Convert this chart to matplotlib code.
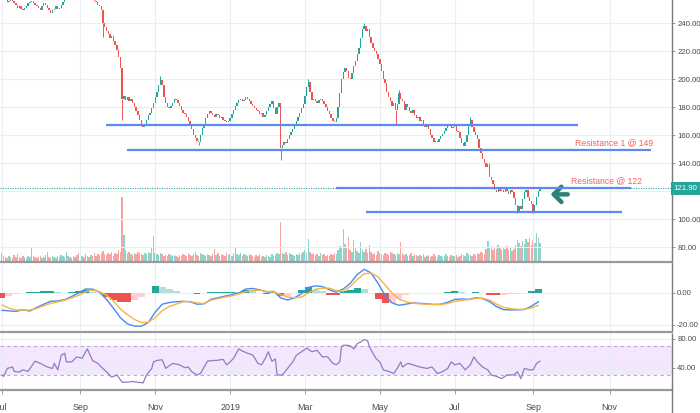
import matplotlib.pyplot as plt
import matplotlib.transforms as mtransforms
import numpy as np
import pandas as pd
from matplotlib.lines import Line2D

plt.rcParams['font.family'] = ['Liberation Sans', 'DejaVu Sans']

# daily closes, one per trading day from 2 Jul 2018 to 6 Sep 2019
closes = [
    258, 259, 257, 255, 256, 258, 256, 254, 253, 251,
    252, 250, 249, 251, 252, 254, 255, 256, 254, 253,
    252, 251, 249, 252, 254, 253, 251, 249, 247, 249,
    250, 252, 250, 251, 253, 255, 257, 258, 260, 259,
    261, 260, 262, 261, 259, 260, 262, 261, 259, 260,
    258, 259, 257, 256, 255, 253, 252, 249, 240, 237,
    234, 232, 229, 231, 227, 224, 221, 216, 208, 186,
    188, 185, 187, 184, 186, 183, 180, 177, 174, 171,
    168, 166, 168, 171, 174, 176, 179, 183, 187, 191,
    196, 199, 196, 187, 183, 180, 179, 181, 183, 186,
    185, 183, 181, 178, 176, 175, 173, 170, 168, 164,
    160, 158, 156, 155, 160, 165, 168, 172, 175, 177,
    176, 174, 173, 175, 174, 172, 173, 171, 170, 169,
    170, 172, 175, 178, 181, 183, 185, 186, 184, 185,
    187, 186, 184, 182, 181, 179, 178, 177, 175, 176,
    173, 174, 177, 180, 182, 184, 179, 175, 180, 183,
    151, 153, 155, 154, 157, 160, 162, 164, 167, 170,
    173, 176, 179, 182, 188, 194, 198, 191, 185, 186,
    184, 183, 185, 186, 184, 182, 180, 177, 175, 172,
    170, 169, 172, 180, 190, 200, 205, 208, 206, 201,
    200, 204, 209, 213, 218, 222, 229, 236, 238, 234,
    236, 230, 226, 222, 220, 218, 214, 211, 206, 200,
    197, 191, 187, 184, 181, 183, 178, 182, 190, 186,
    184, 178, 182, 180, 177, 176, 178, 174, 172, 173,
    170, 171, 168, 166, 167, 164, 160, 158, 155, 156,
    155, 157, 159, 161, 163, 165, 167, 168, 165, 166,
    167, 163, 162, 158, 154, 152, 155, 160, 167, 171,
    166, 162, 160, 157, 151, 147, 143, 140, 137, 139,
    130, 128, 125, 121, 119, 122, 120, 121, 119, 122,
    120, 118, 121, 119, 115, 110, 106, 109, 107, 114,
    119, 121, 116, 113, 111, 106, 110, 116, 120, 121.9,
]

volumes = [
    9, 6, 5, 4, 6, 5, 4, 7, 5, 8,
    5, 4, 6, 5, 4, 6, 5, 15, 6, 5,
    4, 5, 6, 4, 5, 7, 10, 5, 4, 6,
    5, 4, 6, 5, 7, 6, 5, 10, 6, 5,
    4, 6, 5, 7, 9, 16, 6, 5, 8, 6,
    5, 7, 6, 9, 6, 8, 7, 9, 11, 8,
    7, 9, 8, 10, 6, 9, 8, 12, 10, 65,
    27, 12, 9, 10, 8, 7, 9, 8, 10, 9,
    8, 7, 9, 8, 10, 9, 15, 26, 9, 8,
    7, 9, 8, 6, 7, 6, 8, 7, 6, 7,
    6, 5, 7, 6, 8, 7, 6, 9, 7, 6,
    8, 10, 7, 6, 9, 8, 7, 6, 8, 7,
    6, 8, 13, 7, 9, 6, 8, 7, 6, 9,
    7, 8, 6, 9, 14, 8, 7, 9, 6, 8,
    7, 6, 8, 7, 6, 5, 7, 6, 8, 5,
    6, 5, 7, 6, 5, 8, 6, 7, 9, 8,
    40, 9, 8, 10, 7, 9, 8, 7, 6, 8,
    7, 9, 8, 10, 12, 9, 23, 10, 8, 9,
    7, 8, 6, 9, 7, 8, 6, 7, 6, 8,
    7, 9, 8, 12, 16, 14, 33, 18, 15, 25,
    12, 10, 22, 14, 11, 9, 20, 12, 10, 13,
    9, 17, 10, 8, 9, 7, 11, 9, 8, 7,
    9, 8, 7, 10, 9, 8, 7, 9, 8, 20,
    9, 7, 8, 6, 7, 9, 6, 8, 7, 6,
    7, 6, 8, 5, 6, 7, 5, 6, 8, 6,
    5, 7, 6, 5, 6, 8, 6, 5, 7, 6,
    6, 7, 5, 6, 8, 7, 6, 9, 8, 7,
    6, 8, 7, 9, 8, 10, 9, 8, 13, 21,
    14, 16, 12, 15, 13, 17, 14, 12, 15, 13,
    16, 12, 14, 11, 13, 17, 22, 19, 16, 21,
    18, 23, 20, 24, 17, 22, 19, 29, 24, 19,
]

# long wicks that stick out of the bodies
low_wick_idx = [58, 69, 113, 160, 226, 296, 305]
low_wick_val = [230, 171, 153, 142, 168, 104, 104]
high_wick_idx = [91, 176, 208, 228, 269]
high_wick_val = [202, 200, 240, 192, 173]

# MACD(12,26,9) read every 4 trading days
ind_step = 4
macd = [-10.8, -11.2, -11.5, -10.5, -11.3, -9.0, -7.0, -5.2, -5.0, -4.2,
        -2.2, 0.0, 2.5, 2.4, 0.5, -4.0, -9.5, -15.5, -19.3, -20.7,
        -20.8, -18.5, -12.0, -7.0, -6.0, -5.5, -5.2, -5.5, -7.0, -6.8,
        -4.0, -3.0, -2.0, -1.0, 0.0, 2.5, 2.8, 2.0, 0.6, 1.0,
        -3.0, -4.4, -3.0, -0.5, 3.5, 4.4, 4.0, 2.0, 0.5, 2.5,
        6.0, 11.5, 14.8, 12.5, 6.0, -1.5, -6.2, -7.7, -7.0, -6.2,
        -6.5, -6.7, -7.2, -7.0, -5.8, -4.0, -3.7, -4.0, -3.0, -3.5,
        -5.4, -8.5, -10.4, -10.6, -10.6, -10.3, -8.3, -5.5]
signal = [-7.5, -9.5, -10.6, -10.7, -10.7, -9.6, -8.0, -6.5, -5.6, -4.5,
          -3.0, -1.5, 0.8, 1.7, 0.8, -1.3, -5.0, -10.0, -13.5, -16.5,
          -18.5, -18.3, -15.5, -11.0, -8.5, -7.0, -5.5, -5.3, -6.2, -6.7,
          -4.5, -3.5, -2.6, -1.8, -0.6, 0.8, 1.6, 1.7, 1.0, 0.5,
          -1.0, -2.5, -3.0, -2.5, 0.0, 2.3, 3.0, 3.0, 1.5, 1.0,
          4.0, 8.5, 12.0, 12.5, 10.0, 5.0, 0.0, -3.8, -5.5, -6.4,
          -6.8, -7.0, -7.2, -7.3, -6.5, -5.3, -4.6, -4.2, -3.4, -3.3,
          -4.4, -7.0, -9.0, -9.8, -10.2, -10.2, -9.3, -7.8]
hist = [-3.3, -1.7, -0.9, 0.2, 0.5, 0.6, 1.0, 1.3, 0.6, 0.3,
        0.8, 1.5, 1.7, 0.7, -0.3, -2.7, -4.5, -5.5, -5.8, -4.2,
        -2.3, -0.2, 4.5, 4.0, 2.5, 1.5, 0.3, -0.2, -0.8, -0.1,
        0.5, 0.5, 0.6, 0.8, 0.6, 1.7, 1.2, 0.3, -0.4, 0.5,
        -2.0, -1.9, 0.0, 2.0, 3.5, 2.1, 1.0, -1.0, -1.0, 1.5,
        2.0, 3.0, 2.8, 0.0, -4.0, -6.5, -6.2, -3.9, -1.5, 0.2,
        0.3, 0.3, 0.0, 0.3, 0.7, 1.3, 0.9, 0.2, 0.4, -0.2,
        -1.0, -1.5, -1.4, -0.8, -0.4, -0.1, 1.0, 2.3]

# RSI(14) readings (trading day index, value)
rsi_idx = [0, 1, 3, 6, 7, 10, 12, 15, 19, 22,
           26, 29, 30, 32, 34, 36, 37, 40, 43, 46,
           49, 52, 55, 57, 60, 63, 66, 69, 72, 75,
           78, 81, 83, 86, 87, 89, 92, 94, 95, 98,
           102, 105, 107, 109, 112, 114, 118, 121, 123, 127,
           129, 131, 133, 136, 138, 141, 144, 147, 149, 151,
           153, 155, 157, 158, 161, 164, 167, 169, 172, 175,
           178, 181, 184, 187, 190, 192, 194, 195, 196, 198,
           200, 202, 204, 206, 208, 210, 211, 213, 215, 217,
           219, 222, 225, 227, 229, 230, 233, 236, 240, 244,
           247, 250, 253, 256, 258, 260, 263, 266, 269, 271,
           273, 276, 279, 281, 284, 287, 290, 294, 296, 298,
           300, 303, 305, 307, 309]
rsi_val = [30, 28, 39, 41, 35, 34, 37, 35, 49, 46,
           41, 39, 46, 37, 57, 60, 48, 48, 55, 53,
           66, 50, 46, 41, 34.5, 27, 30, 20, 20, 21,
           20, 19, 30, 39, 48, 50, 51, 39, 41, 46,
           44, 40, 41, 34.5, 30, 32, 49, 50, 50, 51.5,
           44, 48, 53, 66, 63, 60, 57.5, 46, 44, 52,
           62, 49, 52, 30, 30, 39, 48, 57, 62, 67,
           62, 64, 55, 55, 46, 44, 48, 69, 71, 71,
           70, 66, 73, 75.5, 79, 77, 69, 60, 52, 48,
           37, 35, 32, 39, 48, 41, 46, 44, 41, 39,
           41, 32, 34.5, 39, 48, 44, 46, 37, 44, 55,
           48, 41, 37, 30, 28, 25, 30, 30, 34.5, 25,
           39, 37, 37, 46, 49]

# drawn support / resistance lines
levels = [167, 149, 122, 105]
level_from = [60, 72, 192, 209]
level_to = [331, 373, 361, 356]
last_price = 121.9

price_ticks = [80, 100, 120, 140, 160, 180, 200, 220, 240]

UP, DOWN = '#26a69a', '#ef5350'
GRID = '#e9eef4'
SEP = '#9a9a9a'
TXT = '#4a4a4a'

dates = pd.bdate_range('2018-07-02', periods=390)
x_max = 384.8
tick_pos, tick_lab = [], []
for i, d in enumerate(dates):
    if i > x_max:
        break
    if (i == 0 or d.month != dates[i - 1].month) and d.month % 2 == 1:
        tick_pos.append(i)
        tick_lab.append('2019' if d.month == 1 else d.strftime('%b'))

c = np.array(closes, dtype=float)
o = np.concatenate([[c[0] + 1], c[:-1]])
x = np.arange(len(c))
up = c >= o

fig = plt.figure(figsize=(7, 4.13), dpi=100)
W = 672 / 700
vol_ax = fig.add_axes([0, 151 / 413, W, 262 / 413])
ax = fig.add_axes([0, 151 / 413, W, 262 / 413], sharex=vol_ax)
mx = fig.add_axes([0, 81 / 413, W, 69 / 413], sharex=vol_ax)
rx = fig.add_axes([0, 23 / 413, W, 56 / 413], sharex=vol_ax)
vol_ax.set_zorder(0)
ax.set_zorder(1)
ax.patch.set_visible(False)

# volume
vol_ax.bar(x, volumes, width=0.85, color=np.where(up, '#8fd2c7', '#f6a6a2'), linewidth=0)
vol_ax.set_ylim(0, max(volumes) * 4.03)
vol_ax.axis('off')

# candles
lo = np.minimum(o, c)
body = np.maximum(np.abs(c - o), 0.6)
ax.bar(x, body, bottom=lo, width=0.8, color=np.where(up, UP, DOWN), linewidth=0, zorder=3)
ax.vlines(low_wick_idx, low_wick_val, [min(o[i], c[i]) for i in low_wick_idx],
          color=[UP if up[i] else DOWN for i in low_wick_idx], lw=0.7, zorder=3)
ax.vlines(high_wick_idx, [max(o[i], c[i]) for i in high_wick_idx], high_wick_val,
          color=[UP if up[i] else DOWN for i in high_wick_idx], lw=0.7, zorder=3)

ax.axhline(last_price, color=UP, ls=(0, (1, 1.2)), lw=0.8, zorder=2)
ax.hlines(levels, level_from, level_to, color='#5b8ced', lw=1.6, zorder=4)
ax.text(351.5, 154.3, 'Resistance 1 @ 149', color='#f0625d', fontsize=6.2,
        ha='center', va='center')
ax.text(347.5, 127.1, 'Resistance @ 122', color='#f0625d', fontsize=6.2,
        ha='center', va='center')
ax.annotate('', xy=(313.5, 117.6), xytext=(326.5, 117.6),
            arrowprops=dict(arrowstyle='->,head_length=0.5,head_width=0.5',
                            color='#2b8176', lw=3.2, mutation_scale=11))

ax.set_ylim(69.29, 256.43)
ax.set_yticks(price_ticks)
ax.set_yticklabels(['' if v == 120 else f'{v:.2f}' for v in price_ticks])
blend = mtransforms.blended_transform_factory(ax.transAxes, ax.transData)
ax.text(1.0025, last_price, f'{last_price:.2f}', transform=blend, color='white',
        fontsize=5.6, ha='left', va='center', clip_on=False, zorder=10,
        bbox=dict(boxstyle='square,pad=0.35', fc=UP, ec='none'))

# MACD
ix = np.arange(len(macd)) * ind_step
hcol = []
for k, h in enumerate(hist):
    prev = hist[k - 1] if k else h
    if h >= 0:
        hcol.append('#26a69a' if h >= prev else '#b2dfdb')
    else:
        hcol.append('#ef5350' if h <= prev else '#ffcdd2')
mx.bar(ix, hist, width=ind_step, color=hcol, linewidth=0, zorder=2)
mx.plot(ix, macd, color='#4a8af0', lw=1.0, zorder=3)
mx.plot(ix, signal, color='#f7b443', lw=1.0, zorder=3)
mx.set_ylim(-24.4, 18.75)
mx.set_yticks([0, -20])
mx.set_yticklabels(['0.00', '-20.00'])

# RSI
rx.axhspan(30, 70, color='#f3e6fd', lw=0, zorder=0)
rx.axhline(70, color='#b9a9cc', ls=(0, (3, 3)), lw=0.8, zorder=1)
rx.axhline(30, color='#b9a9cc', ls=(0, (3, 3)), lw=0.8, zorder=1)
rx.plot(rsi_idx, rsi_val, color='#8f7cc6', lw=0.9, zorder=3)
rx.set_ylim(9.24, 86.5)
rx.set_yticks([80, 40])
rx.set_yticklabels(['80.00', '40.00'])

rx.set_xlim(-1.15, x_max)
rx.set_xticks(tick_pos)
rx.set_xticklabels(tick_lab)

for a in (ax, mx, rx):
    a.grid(True, color=GRID, lw=0.8, zorder=0)
    a.set_axisbelow(True)
    a.yaxis.tick_right()
    a.tick_params(axis='y', labelsize=5.6, labelcolor=TXT, color='#888888',
                  length=2.5, width=0.6, pad=1.2)
    a.spines['top'].set_visible(False)
    a.spines['left'].set_visible(False)
    a.spines['right'].set_color('#7a7a7a')
    a.spines['right'].set_linewidth(1.0)
    a.spines['bottom'].set_color(SEP)
    a.spines['bottom'].set_linewidth(1.6)
for a in (ax, mx):
    a.tick_params(axis='x', labelbottom=False, length=0)
rx.tick_params(axis='x', labelsize=6.4, labelcolor=TXT, color='#888888',
               length=3, width=0.6, pad=6)

fig.add_artist(Line2D([W, W], [0, 23 / 413], color='#7a7a7a', lw=1.0,
                      transform=fig.transFigure))

fig.savefig('out.png', dpi=100, facecolor='white')
